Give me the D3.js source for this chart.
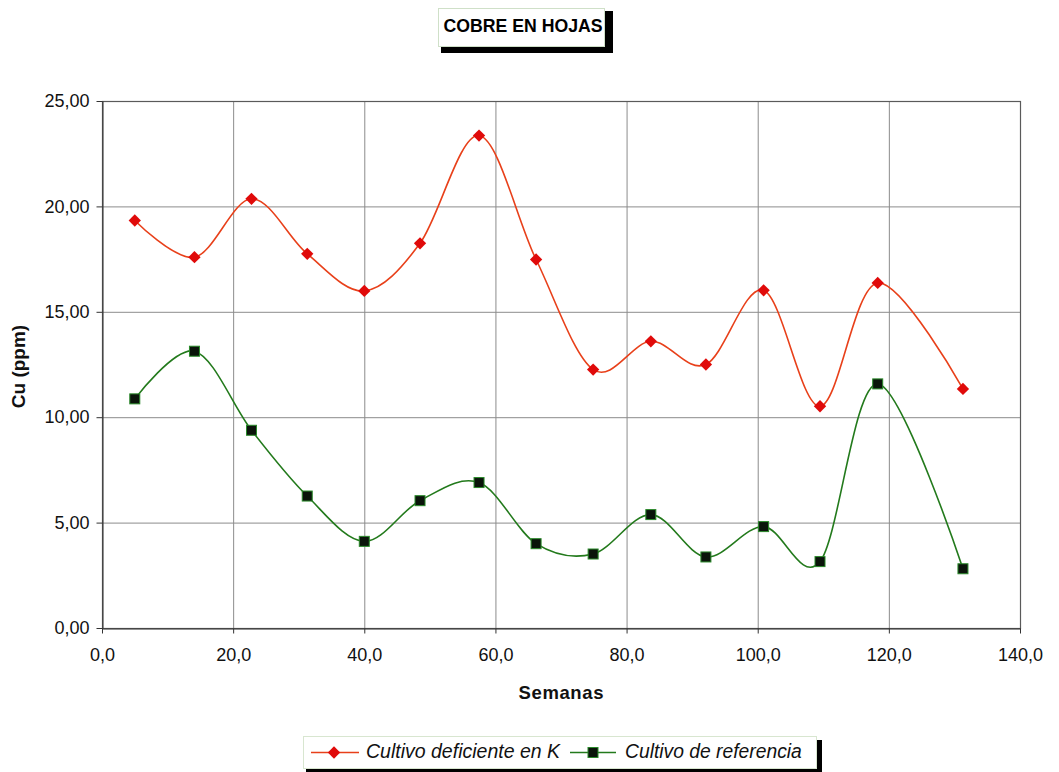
<!DOCTYPE html>
<html>
<head>
<meta charset="utf-8">
<script src="https://cdn.jsdelivr.net/npm/d3@7/dist/d3.min.js"></script>
<style>
  html, body { margin: 0; padding: 0; background: #fff; }
  svg { display: block; font-family: "Liberation Sans", Arial, sans-serif; }
</style>
</head>
<body>
<svg id="chart" width="1059" height="772"></svg>
<script>
// Semanas (x) for each sampling
const weeks = [5.0, 14.1, 22.8, 31.3, 40.0, 48.5, 57.5, 66.2, 74.9, 83.7, 92.1, 100.9, 109.5, 118.3, 131.3];
// Cu (ppm) in leaves
const deficientK = [19.33, 17.59, 20.36, 17.75, 15.99, 18.25, 23.36, 17.48, 12.26, 13.60, 12.50, 16.02, 10.52, 16.37, 11.34];
const reference  = [10.87, 13.13, 9.38, 6.26, 4.11, 6.04, 6.90, 4.00, 3.51, 5.38, 3.37, 4.81, 3.15, 11.58, 2.81];
const seriesNames = ["Cultivo deficiente en K", "Cultivo de referencia"];
const xTicks = [0, 20, 40, 60, 80, 100, 120, 140];
const yTicks = [0, 5, 10, 15, 20, 25];

const svg = d3.select("#chart");
const plotL = 102, plotR = 1020, plotT = 101, plotB = 628;

const x = d3.scaleLinear().domain([0, 140]).range([plotL, plotR]);
const y = d3.scaleLinear().domain([0, 25]).range([plotB, plotT]);
const fmt = (d, digits) => d.toFixed(digits).replace(".", ",");

// grid
const grid = svg.append("g").attr("stroke", "#8c8c8c").attr("stroke-width", 1);
grid.selectAll("line.gx").data(xTicks.slice(1, -1)).join("line")
  .attr("x1", d => x(d) + 0.5).attr("x2", d => x(d) + 0.5)
  .attr("y1", plotT).attr("y2", plotB);
grid.selectAll("line.gy").data(yTicks.slice(1, -1)).join("line")
  .attr("x1", plotL).attr("x2", plotR)
  .attr("y1", d => y(d) + 0.5).attr("y2", d => y(d) + 0.5);

// plot frame
svg.append("rect")
  .attr("x", plotL + 0.5).attr("y", plotT + 0.5)
  .attr("width", plotR - plotL).attr("height", plotB - plotT)
  .attr("fill", "none").attr("stroke", "#5a5a5a").attr("stroke-width", 1.2);

// axes
const xAxis = d3.axisBottom(x).tickValues(xTicks).tickSize(5).tickSizeOuter(0)
  .tickFormat(d => fmt(d, 1));
const yAxis = d3.axisLeft(y).tickValues(yTicks).tickSize(6).tickSizeOuter(0)
  .tickFormat(d => fmt(d, 2));

const gx = svg.append("g").attr("transform", `translate(0,${plotB + 0.5})`).call(xAxis);
gx.select(".domain").attr("stroke", "#333");
gx.selectAll(".tick line").attr("stroke", "#333");
gx.selectAll(".tick text").attr("font-size", 18).attr("fill", "#111")
  .attr("y", 20);

const gy = svg.append("g").attr("transform", `translate(${plotL + 0.5},0)`).call(yAxis);
gy.select(".domain").attr("stroke", "#333");
gy.selectAll(".tick line").attr("stroke", "#333");
gy.selectAll(".tick text").attr("font-size", 18).attr("fill", "#111").attr("dx", -4);

// axis titles
svg.append("text").attr("x", 561).attr("y", 699).attr("text-anchor", "middle")
  .attr("font-size", 18.5).attr("font-weight", "bold").attr("fill", "#111")
  .attr("textLength", 85).attr("lengthAdjust", "spacing").text("Semanas");
svg.append("text").attr("transform", "translate(25,366.5) rotate(-90)")
  .attr("text-anchor", "middle").attr("font-size", 19).attr("font-weight", "bold")
  .attr("fill", "#111").text("Cu (ppm)");

// series
const line = d3.line().curve(d3.curveCardinal.tension(0))
  .x(d => x(d[0])).y(d => y(d[1]));

const redPts = weeks.map((w, i) => [w, deficientK[i]]);
const greenPts = weeks.map((w, i) => [w, reference[i]]);

svg.append("path").datum(redPts).attr("d", line)
  .attr("fill", "none").attr("stroke", "#e8401a").attr("stroke-width", 1.6);
svg.append("path").datum(greenPts).attr("d", line)
  .attr("fill", "none").attr("stroke", "#237a1c").attr("stroke-width", 1.6);

const diamond = d3.symbol().type(d3.symbolSquare).size(76)();
svg.append("g").selectAll("path").data(redPts).join("path")
  .attr("d", diamond)
  .attr("transform", d => `translate(${x(d[0])},${y(d[1])}) rotate(45)`)
  .attr("fill", "#e00a0a");

svg.append("g").selectAll("rect").data(greenPts).join("rect")
  .attr("x", d => x(d[0]) - 5).attr("y", d => y(d[1]) - 5)
  .attr("width", 10).attr("height", 10)
  .attr("fill", "#0a140a").attr("stroke", "#2a8a2a").attr("stroke-width", 1);

// title box with shadow
svg.append("rect").attr("x", 441).attr("y", 11).attr("width", 172).attr("height", 42)
  .attr("fill", "#000");
svg.append("rect").attr("x", 438.5).attr("y", 8.5).attr("width", 166).attr("height", 38)
  .attr("fill", "#fff").attr("stroke", "#cfe0c8").attr("stroke-width", 1);
svg.append("text").attr("x", 443.5).attr("y", 31.5)
  .attr("font-size", 19).attr("font-weight", "bold").attr("fill", "#000")
  .attr("textLength", 159).attr("lengthAdjust", "spacingAndGlyphs").text("COBRE EN HOJAS");

// legend box with shadow
svg.append("rect").attr("x", 306).attr("y", 740).attr("width", 516).attr("height", 32)
  .attr("fill", "#000");
svg.append("rect").attr("x", 303.5).attr("y", 736.5).attr("width", 513).attr("height", 32)
  .attr("fill", "#fff").attr("stroke", "#d8e6d0").attr("stroke-width", 1);

const ly = 752.5;
const leg = svg.append("g");
// red entry
leg.append("line").attr("x1", 311).attr("x2", 359).attr("y1", ly).attr("y2", ly)
  .attr("stroke", "#e8401a").attr("stroke-width", 1.6);
leg.append("path").attr("d", diamond).attr("transform", `translate(334,${ly}) rotate(45)`).attr("fill", "#e00a0a");
leg.append("text").attr("x", 366).attr("y", 758).attr("font-size", 19.5).attr("font-style", "italic")
  .attr("fill", "#111").text(seriesNames[0]);
// green entry
leg.append("line").attr("x1", 570).attr("x2", 616).attr("y1", ly).attr("y2", ly)
  .attr("stroke", "#237a1c").attr("stroke-width", 1.6);
leg.append("rect").attr("x", 588).attr("y", ly - 5).attr("width", 10).attr("height", 10)
  .attr("fill", "#0a140a").attr("stroke", "#2a8a2a");
leg.append("text").attr("x", 625).attr("y", 758).attr("font-size", 19.3).attr("font-style", "italic")
  .attr("fill", "#111").text(seriesNames[1]);
</script>
</body>
</html>
